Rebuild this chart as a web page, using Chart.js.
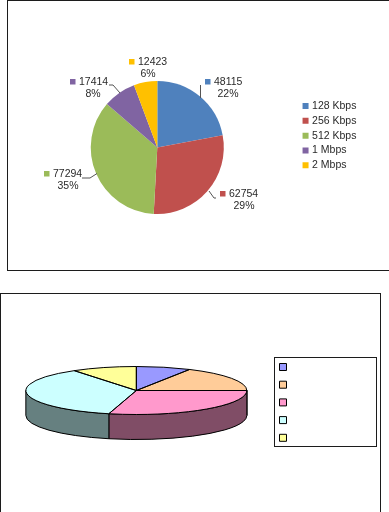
<!DOCTYPE html>
<html>
<head>
<meta charset="utf-8">
<script src="https://cdn.jsdelivr.net/npm/chart.js@4"></script>
<style>
html, body { margin: 0; padding: 0; background: #fff; }
#page { position: relative; width: 389px; height: 512px; overflow: hidden; }
.frame { position: absolute; border: 1px solid #1c1c1c; box-sizing: border-box; }
canvas { position: absolute; left: 0; filter: blur(0.35px); }
</style>
</head>
<body>
<div id="page">
  <div class="frame" style="left:7px;top:0;width:420px;height:271px"></div>
  <canvas id="speedChart" width="389" height="280" style="top:0"></canvas>
  <div class="frame" style="left:0;top:293px;width:381px;height:260px"></div>
  <div class="frame" style="left:274px;top:357px;width:103px;height:90px"></div>
  <canvas id="tiltChart" width="389" height="219" style="top:293px"></canvas>
</div>
<script>
const speedLabels = ['128 Kbps', '256 Kbps', '512 Kbps', '1 Mbps', '2 Mbps'];
const speedValues = [48115, 62754, 77294, 17414, 12423];
const speedColors = ['#4F81BD', '#C0504D', '#9BBB59', '#8064A2', '#FFC000'];

// legend text is missing in the second chart
const tiltLabels = ['', '', '', '', ''];
const tiltValues = [8, 17, 29, 36.5, 9.5];
const tiltColors = ['#9999FF', '#FFCC99', '#FF99CC', '#CCFFFF', '#FFFF99'];
const tiltSides = ['#4D4D80', '#806650', '#804D66', '#668080', '#808050'];

const FONT = '"Liberation Sans", Arial, sans-serif';
const TEXT_COLOR = '#2a2a2a';

// label placement around the first pie: swatch left, percent centre, row y, leader line
const calloutSpots = [
  { left: 205, cx: 228, y: 82, line: [[200.5, 85], [200.5, 98]] },
  { left: 220, cx: 244, y: 194, line: [[209, 191], [214, 198], [216, 198]] },
  { left: 44, cx: 68, y: 174, line: [[82, 178], [90, 178], [97, 173.5]] },
  { left: 70, cx: 93, y: 82, line: [[109, 85], [113, 85], [120, 93]] },
  { left: 129, cx: 148, y: 62, line: null }
];

// move the legend away from where the layout put it
const legendMover = {
  id: 'legendMover',
  afterLayout(chart, args, opts) {
    const legend = chart.legend;
    const w = legend.right - legend.left;
    const h = legend.bottom - legend.top;
    legend.left = opts.x;
    legend.right = opts.x + w;
    legend.top = opts.y;
    legend.bottom = opts.y + h;
  }
};

const callouts = {
  id: 'callouts',
  afterDatasetsDraw(chart) {
    const ctx = chart.ctx;
    const values = chart.data.datasets[0].data;
    const colors = chart.data.datasets[0].backgroundColor;
    const total = values.reduce((a, b) => a + b, 0);
    ctx.save();
    ctx.font = '10.5px ' + FONT;
    ctx.textBaseline = 'middle';
    values.forEach((v, i) => {
      const spot = calloutSpots[i];
      ctx.fillStyle = colors[i];
      ctx.fillRect(spot.left, spot.y - 3, 5.5, 5.5);
      ctx.fillStyle = TEXT_COLOR;
      ctx.textAlign = 'left';
      ctx.fillText(String(v), spot.left + 9, spot.y);
      ctx.textAlign = 'center';
      ctx.fillText(Math.round(v / total * 100) + '%', spot.cx, spot.y + 12.5);
      if (spot.line) {
        ctx.strokeStyle = '#555';
        ctx.lineWidth = 1;
        ctx.beginPath();
        spot.line.forEach((p, k) => k ? ctx.lineTo(p[0], p[1]) : ctx.moveTo(p[0], p[1]));
        ctx.stroke();
      }
    });
    ctx.restore();
  }
};

// flatten the pie into a disc with a rim
const SQUASH = 24 / 110.5;
const RIM = 25;
const tilted = {
  id: 'tilted',
  beforeDatasetsDraw(chart) {
    const ctx = chart.ctx;
    const arcs = chart.getDatasetMeta(0).data;
    ctx.save();
    ctx.lineWidth = 1;
    ctx.strokeStyle = '#000';
    arcs.forEach((arc, i) => {
      const a = Math.max(arc.startAngle, 0);
      const b = Math.min(arc.endAngle, Math.PI);
      if (a >= b) return;
      const ry = arc.outerRadius * SQUASH;
      ctx.beginPath();
      ctx.ellipse(arc.x, arc.y, arc.outerRadius, ry, 0, a, b);
      ctx.ellipse(arc.x, arc.y + RIM, arc.outerRadius, ry, 0, b, a, true);
      ctx.closePath();
      ctx.fillStyle = tiltSides[i];
      ctx.fill();
      ctx.stroke();
    });
    ctx.restore();
    const first = arcs[0];
    ctx.save();
    ctx.translate(first.x, first.y);
    ctx.scale(1, SQUASH);
    ctx.translate(-first.x, -first.y);
  },
  afterDatasetsDraw(chart) {
    const ctx = chart.ctx;
    ctx.restore();
    ctx.save();
    ctx.lineWidth = 1;
    ctx.strokeStyle = '#000';
    chart.getDatasetMeta(0).data.forEach(arc => {
      const ry = arc.outerRadius * SQUASH;
      ctx.beginPath();
      ctx.moveTo(arc.x, arc.y);
      ctx.ellipse(arc.x, arc.y, arc.outerRadius, ry, 0, arc.startAngle, arc.endAngle);
      ctx.closePath();
      ctx.stroke();
    });
    ctx.restore();
  }
};

new Chart(document.getElementById('speedChart').getContext('2d'), {
  type: 'pie',
  data: {
    labels: speedLabels,
    datasets: [{
      data: speedValues,
      backgroundColor: speedColors,
      borderWidth: 0,
      clip: false
    }]
  },
  options: {
    responsive: false,
    animation: false,
    radius: 66.5,
    layout: { padding: { right: 8, top: 15, bottom: 0 } },
    plugins: {
      tooltip: { enabled: false },
      legendMover: { x: 300, y: 96.5 },
      legend: {
        position: 'right',
        align: 'start',
        labels: {
          usePointStyle: true,
          pointStyle: 'rect',
          boxWidth: 2.5,
          boxHeight: 6,
          padding: 4.3,
          color: TEXT_COLOR,
          font: { family: FONT, size: 10.5 }
        }
      }
    }
  },
  plugins: [legendMover, callouts]
});

new Chart(document.getElementById('tiltChart').getContext('2d'), {
  type: 'pie',
  data: {
    labels: tiltLabels,
    datasets: [{
      data: tiltValues,
      backgroundColor: tiltColors,
      borderWidth: 0,
      clip: false
    }]
  },
  options: {
    responsive: false,
    animation: false,
    radius: 110.5,
    layout: { padding: { right: 86.6, top: 1, bottom: 25 } },
    plugins: {
      tooltip: { enabled: false },
      legendMover: { x: 271.8, y: 61.3 },
      legend: {
        position: 'right',
        align: 'start',
        labels: {
          boxWidth: 7,
          boxHeight: 7,
          padding: 7.7,
          font: { family: FONT, size: 10 },
          generateLabels(chart) {
            return Chart.overrides.pie.plugins.legend.labels.generateLabels(chart)
              .map(item => ({ ...item, lineWidth: 1, strokeStyle: '#000' }));
          }
        }
      }
    }
  },
  plugins: [legendMover, tilted]
});
</script>
</body>
</html>
